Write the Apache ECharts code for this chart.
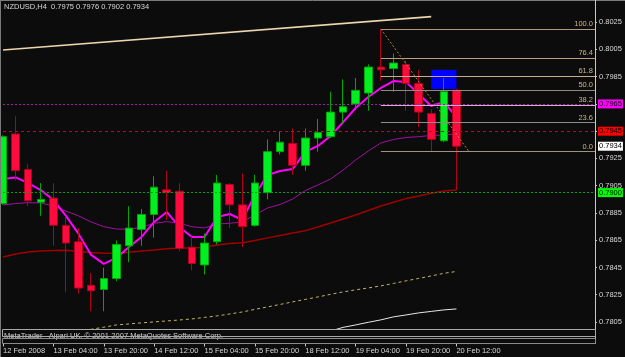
<!DOCTYPE html>
<html><head><meta charset="utf-8">
<script src="https://cdn.jsdelivr.net/npm/echarts@6/dist/echarts.min.js"></script>
<style>html,body{margin:0;padding:0;background:#0c0c0c;}#c{width:625px;height:357px;}</style>
</head><body><div id="c"></div>
<script>
// ---------- data ----------
const symbolTitle = 'NZDUSD,H4  0.7975 0.7976 0.7902 0.7934';
const footerText = 'MetaTrader   Alpari UK, \u00a9 2001-2007 MetaQuotes Software Corp.';
const categories = ['12 Feb 12:00','12 Feb 16:00','12 Feb 20:00','13 Feb 00:00','13 Feb 04:00','13 Feb 08:00','13 Feb 12:00','13 Feb 16:00','13 Feb 20:00','14 Feb 00:00','14 Feb 04:00','14 Feb 08:00','14 Feb 12:00','14 Feb 16:00','14 Feb 20:00','15 Feb 00:00','15 Feb 04:00','15 Feb 08:00','15 Feb 12:00','15 Feb 16:00','15 Feb 20:00','18 Feb 00:00','18 Feb 04:00','18 Feb 08:00','18 Feb 12:00','18 Feb 16:00','18 Feb 20:00','19 Feb 00:00','19 Feb 04:00','19 Feb 08:00','19 Feb 12:00','19 Feb 16:00','19 Feb 20:00','20 Feb 00:00','20 Feb 04:00','20 Feb 08:00','20 Feb 12:00',
  '20 Feb 16:00','20 Feb 20:00','21 Feb 00:00','21 Feb 04:00','21 Feb 08:00','21 Feb 12:00','21 Feb 16:00','21 Feb 20:00','22 Feb 00:00','22 Feb 04:00','22 Feb 08:00'];
const xTickLabels = ['12 Feb 2008','13 Feb 04:00','13 Feb 20:00','14 Feb 12:00','15 Feb 04:00','15 Feb 20:00','18 Feb 12:00','19 Feb 04:00','19 Feb 20:00','20 Feb 12:00'];
const yTickMin = 0.7805, yTickMax = 0.8025, yTickStep = 0.002;

const openP  = [0.7892,0.7943,0.7917,0.7893,0.7896,0.7876,0.7864,0.7832,0.7829,0.7837,0.7861,0.7873,0.7884,0.7902,0.7901,0.7860,0.7847,0.7864,0.7906,0.7891,0.7876,0.7900,0.7930,0.7936,0.7920,0.7940,0.7941,0.7959,0.7965,0.7973,0.7992,0.7991,0.7994,0.7980,0.7958,0.7938,0.7975];
const highP  = [0.7942,0.7956,0.7921,0.7907,0.7907,0.7883,0.7874,0.7841,0.7845,0.7865,0.7890,0.7888,0.7912,0.7916,0.7907,0.7868,0.7870,0.7913,0.7907,0.7914,0.7913,0.7939,0.7945,0.7947,0.7947,0.7954,0.7974,0.7983,0.7984,0.7994,0.8020,0.8002,0.7997,0.7990,0.7961,0.7984,0.7976];
const lowP   = [0.7891,0.7909,0.7890,0.7883,0.7861,0.7827,0.7826,0.7813,0.7813,0.7835,0.7849,0.7861,0.7867,0.7880,0.7857,0.7843,0.7840,0.7862,0.7874,0.7860,0.7875,0.7895,0.7928,0.7913,0.7916,0.7930,0.7940,0.7951,0.7961,0.7960,0.7982,0.7974,0.7960,0.7948,0.7930,0.7937,0.7902];
const closeP = [0.7941,0.7916,0.7894,0.7895,0.7876,0.7863,0.7830,0.7828,0.7837,0.7862,0.7874,0.7884,0.7904,0.7900,0.7859,0.7848,0.7863,0.7907,0.7891,0.7875,0.7907,0.7930,0.7937,0.7920,0.7940,0.7944,0.7959,0.7963,0.7975,0.7992,0.7990,0.7995,0.7980,0.7959,0.7939,0.7974,0.7934];

const maFast  = [0.7910,0.79111,0.7907,0.79019,0.78946,0.78829,0.78697,0.78543,0.78477,0.78521,0.78602,0.78675,0.78785,0.78858,0.78748,0.78675,0.78675,0.78821,0.78843,0.78799,0.78983,0.79129,0.79158,0.79173,0.79298,0.79342,0.79415,0.79517,0.7962,0.79701,0.79767,0.79818,0.7981,0.79723,0.79635,0.79664,0.79554];
const maMid   = [0.78909,0.7892,0.78926,0.78924,0.78902,0.78865,0.78829,0.78785,0.7875,0.78733,0.78731,0.78746,0.78775,0.78787,0.78775,0.7875,0.78741,0.7877,0.78775,0.78785,0.78836,0.78887,0.78913,0.78953,0.79015,0.79056,0.79099,0.79165,0.79239,0.79305,0.79364,0.79389,0.79404,0.7941,0.79419,0.79422,0.7943];
const maSlow  = [0.78528,0.7855,0.78565,0.78572,0.78576,0.78577,0.78569,0.7856,0.78555,0.78558,0.78563,0.78572,0.7858,0.78589,0.78594,0.78594,0.78599,0.78616,0.78627,0.78633,0.78649,0.78668,0.78686,0.78704,0.78721,0.78748,0.78777,0.78807,0.78836,0.78869,0.78902,0.78929,0.78956,0.78975,0.78995,0.79012,0.79019];
const maLong  = [null,null,null,null,null,null,0.77985,0.77998,0.78013,0.7803,0.78037,0.78045,0.78052,0.78059,0.78066,0.78074,0.78085,0.78096,0.7811,0.78125,0.78144,0.78162,0.7818,0.78199,0.78217,0.78235,0.78254,0.78272,0.78287,0.78301,0.78316,0.78334,0.78353,0.78371,0.78389,0.78408,0.78422];
const maLonger= [null,null,null,null,null,null,null,null,null,null,null,null,null,null,null,null,null,null,null,null,null,null,null,null,null,null,0.77985,0.78012,0.7803,0.78049,0.78067,0.78089,0.78103,0.78118,0.78129,0.7814,0.78147];

const hLinePrices = [0.7965, 0.7945, 0.7900];
const bidPrice = 0.7934;
const fibLevels = [100, 76.4, 61.8, 50, 38.2, 23.6, 0];
const fibHigh = 0.8020, fibLow = 0.7930, fibFromBar = 30, fibToBar = 37;
const trendFrom = [0, 0.80045], trendTo = [34, 0.8029];
const boxFrom = [34, 0.7990], boxTo = [36, 0.7976];

// ---------- chart ----------
const FONT = '"Liberation Sans", Arial, sans-serif';
const FS = 7.5;
const lastIdx = openP.length - 1;
const candleData = openP.map((o, i) => [o, closeP[i], lowP[i], highP[i]]);
const cat = i => categories[i];
const showEvery4 = (i) => i % 4 === 0 && i <= lastIdx;

function badge(price, bg, lineColor, lineType) {
  return {
    yAxis: price,
    lineStyle: { color: lineColor, type: lineType, width: 1 },
    label: { show: true, position: 'end', formatter: price.toFixed(4), backgroundColor: bg, color: '#000',
             padding: [1, 1, 0, 1], distance: 3, fontSize: FS, fontFamily: FONT }
  };
}
const fibColors = {100: '#b09878', 76.4: '#b8a080', 61.8: '#c4ae8c', 50: '#8e8a80', 38.2: '#d8a8d8', 23.6: '#8c8c8c', 0: '#a09478'};
const fibLines = fibLevels.map(l => {
  const p = fibLow + (fibHigh - fibLow) * l / 100;
  return [
    { coord: [cat(fibFromBar), p], lineStyle: { color: fibColors[l], width: 1, type: 'solid' },
      label: { show: true, position: 'insideEndTop', formatter: l.toFixed(1), color: '#c8b48c', distance: [2, 1], fontSize: FS, fontFamily: FONT } },
    { coord: [cat(categories.length - 1), p] }
  ];
});

const markLineData = [
  ...fibLines,
  [ { coord: [cat(fibFromBar), fibHigh], lineStyle: { color: '#b08a30', width: 1, type: [2, 2] } }, { coord: [cat(fibToBar), fibLow] } ],
  [ { coord: [cat(trendFrom[0]), trendFrom[1]], lineStyle: { color: '#ecd6ae', width: 1.6, type: 'solid' } }, { coord: [cat(trendTo[0]), trendTo[1]] } ],
  badge(hLinePrices[0], '#ff00ff', '#a020a0', [2, 2]),
  badge(hLinePrices[1], '#ff0000', '#b01030', [3, 3]),
  badge(hLinePrices[2], '#00ff00', '#00a000', [2, 2]),
  badge(bidPrice, '#ffffff', 'rgba(0,0,0,0)', 'solid')
];

function maSeries(data, color, width, type) {
  return { type: 'line', xAxisIndex: 0, yAxisIndex: 0, data, showSymbol: false, symbol: 'none', silent: true, z: 2,
           lineStyle: { color, width, type }, connectNulls: false };
}

const chart = echarts.init(document.getElementById('c'), null, { renderer: 'canvas' });
chart.setOption({
  backgroundColor: '#0c0c0c',
  animation: false,
  textStyle: { fontFamily: FONT },
  title: { text: symbolTitle, left: 4, top: 3, padding: 0, textStyle: { color: '#d8d8d8', fontSize: FS, fontWeight: 'normal', fontFamily: FONT } },
  grid: [
    { left: 3, right: 30, top: 3, height: 326, containLabel: false, outerBoundsMode: 'none', show: false },
    { left: 3, right: 30, top: 22, height: 300, containLabel: false, outerBoundsMode: 'none', show: false },
    { left: 3, right: 30, top: 338, height: 5.5, containLabel: false, outerBoundsMode: 'none', show: false }
  ],
  xAxis: [
    { type: 'category', gridIndex: 0, data: categories, boundaryGap: false, show: false },
    { type: 'category', gridIndex: 1, data: categories, boundaryGap: false, show: false },
    { type: 'category', gridIndex: 2, data: categories, boundaryGap: false,
      axisLine: { show: false },
      axisTick: { show: true, length: 3, interval: showEvery4, lineStyle: { color: '#c8c8c8' } },
      axisLabel: { show: true, interval: showEvery4, formatter: (v, i) => xTickLabels[i / 4] || '', align: 'left', margin: 3,
                   color: '#d8d8d8', fontSize: FS, fontFamily: FONT },
      splitLine: { show: false } }
  ],
  yAxis: [
    { type: 'value', gridIndex: 0, min: 0.7800, max: 0.8039, show: false },
    { type: 'value', gridIndex: 1, position: 'right', min: yTickMin, max: yTickMax, interval: yTickStep,
      axisLine: { show: false }, axisTick: { show: true, length: 2, lineStyle: { color: '#c8c8c8' } },
      axisLabel: { margin: 4, color: '#d8d8d8', fontSize: FS, fontFamily: FONT, formatter: v => v.toFixed(4) },
      splitLine: { show: false } },
    { type: 'value', gridIndex: 2, show: false }
  ],
  series: [
    Object.assign(maSeries(maLonger, '#e6e6e6', 1, 'solid'), {
      markArea: { silent: true, z: 1, itemStyle: { color: '#0000ff', opacity: 1, borderWidth: 0 },
                  data: [[ { coord: [cat(boxFrom[0]), boxFrom[1]] }, { coord: [cat(boxTo[0]), boxTo[1]] } ]] }
    }),
    maSeries(maLong, '#c8b464', 1, [3, 3]),
    maSeries(maSlow, '#a00000', 1.5, 'solid'),
    maSeries(maMid, '#a010a0', 1, 'solid'),
    maSeries(maFast, '#ff00ff', 2, 'solid'),
    { type: 'candlestick', xAxisIndex: 0, yAxisIndex: 0, data: candleData, barWidth: 8, z: 3, silent: true, clip: true,
      itemStyle: { color: '#00ee22', color0: '#ff0a3c', borderColor: '#00a800', borderColor0: '#b0001e', borderWidth: 1 },
      markLine: { silent: true, z: 5, precision: 6, symbol: ['none', 'none'], label: { show: false }, emphasis: { disabled: true },
                  data: markLineData } }
  ],
  graphic: [
    { type: 'line', shape: { x1: 0.5, y1: 0, x2: 0.5, y2: 357 }, style: { stroke: '#7a7a7a', lineWidth: 1 }, z: 10 },
    { type: 'line', shape: { x1: 0, y1: 0.5, x2: 625, y2: 0.5 }, style: { stroke: '#7a7a7a', lineWidth: 1 }, z: 10 },
    { type: 'line', shape: { x1: 595.5, y1: 0, x2: 595.5, y2: 344 }, style: { stroke: '#c8c8c8', lineWidth: 1 }, z: 10 },
    { type: 'text', x: 4, y: 336, style: { text: footerText, fill: '#cfcfcf', font: FS + 'px ' + FONT, verticalAlign: 'middle', textVerticalAlign: 'middle' }, z: 10 },
    { type: 'rect', shape: { x: 2.5, y: 329.5, width: 593, height: 7 }, style: { fill: 'none', stroke: '#a8a8a8', lineWidth: 1 }, z: 11 },
    { type: 'rect', shape: { x: 2.5, y: 338.5, width: 593, height: 5 }, style: { fill: 'none', stroke: '#8a8a8a', lineWidth: 1 }, z: 11 }
  ]
});
</script>
</body></html>
